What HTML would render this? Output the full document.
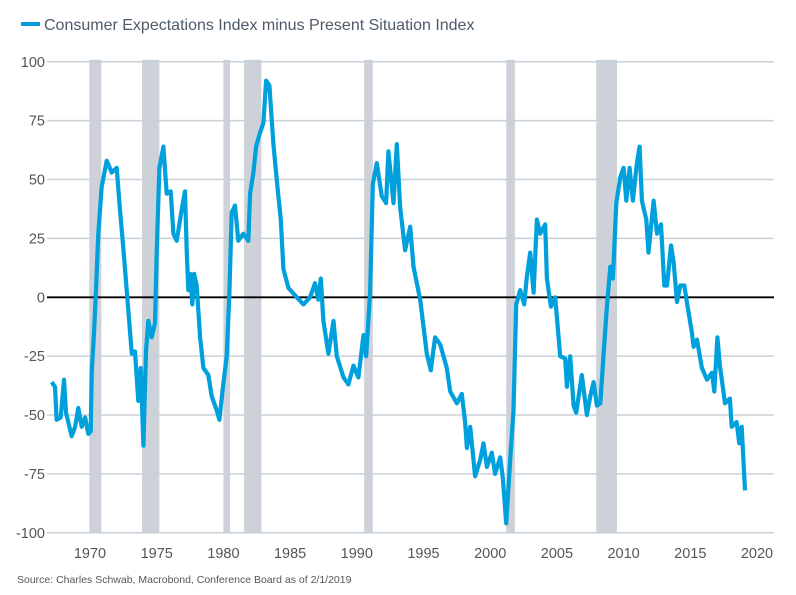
<!DOCTYPE html>
<html><head><meta charset="utf-8">
<style>
body{margin:0;background:#fff;font-family:"Liberation Sans",sans-serif;}
svg{display:block}
</style></head>
<body>
<svg id="chart" width="796" height="595" xmlns="http://www.w3.org/2000/svg">
<g>
<rect x="21" y="22" width="19" height="4" fill="#00a0dc"/>
<text x="44" y="30" font-size="16" fill="#4d5b69">Consumer Expectations Index minus Present Situation Index</text>
</g>
<g id="recessions"></g>
<g id="grid"></g>
<g id="yticks"></g>
<g id="xticks"></g>
<path id="series" fill="none" stroke="#00a0dc" stroke-width="4.2" stroke-linejoin="round"/>
<text x="17" y="583" font-size="10.5" fill="#555">Source: Charles Schwab, Macrobond, Conference Board as of 2/1/2019</text>
</svg>
<script>
const years=[1967.13,1967.38,1967.5,1967.8,1968.05,1968.2,1968.63,1968.88,1969.12,1969.38,1969.63,1969.87,1970.05,1970.13,1970.3,1970.45,1970.62,1970.88,1971.25,1971.63,1972.0,1972.25,1972.5,1972.75,1973.13,1973.37,1973.62,1973.8,1974.0,1974.2,1974.37,1974.62,1974.87,1975.0,1975.2,1975.5,1975.75,1976.05,1976.25,1976.5,1976.87,1977.12,1977.25,1977.37,1977.5,1977.67,1977.8,1978.0,1978.25,1978.5,1978.87,1979.12,1979.5,1979.7,1979.95,1980.25,1980.45,1980.62,1980.87,1981.12,1981.5,1981.87,1982.0,1982.25,1982.45,1982.75,1983.0,1983.2,1983.45,1983.75,1984.05,1984.3,1984.5,1984.87,1985.5,1986.0,1986.5,1986.87,1987.12,1987.3,1987.5,1987.87,1988.25,1988.5,1989.0,1989.37,1989.75,1990.12,1990.5,1990.7,1991.0,1991.2,1991.5,1991.87,1992.2,1992.37,1992.75,1993.0,1993.25,1993.62,1994.0,1994.25,1994.75,1995.25,1995.55,1995.87,1996.25,1996.75,1997.0,1997.5,1997.87,1998.12,1998.25,1998.5,1998.87,1999.25,1999.5,1999.75,2000.12,2000.37,2000.75,2000.95,2001.2,2001.5,2001.75,2001.95,2002.25,2002.55,2002.75,2003.0,2003.25,2003.5,2003.75,2004.12,2004.25,2004.55,2004.87,2005.25,2005.62,2005.75,2006.0,2006.25,2006.45,2006.87,2007.25,2007.5,2007.75,2008.0,2008.25,2008.5,2008.75,2009.0,2009.2,2009.45,2009.75,2010.0,2010.2,2010.45,2010.7,2011.0,2011.2,2011.37,2011.7,2011.87,2012.25,2012.5,2012.8,2013.05,2013.25,2013.55,2013.75,2014.0,2014.25,2014.55,2014.8,2015.12,2015.25,2015.5,2015.87,2016.25,2016.62,2016.8,2017.03,2017.22,2017.6,2017.97,2018.1,2018.47,2018.67,2018.85,2019.1];
const values=[-36,-38,-52,-51,-35,-49,-59,-55,-47,-55,-51,-58,-57,-32,-15,3,27,47,58,53,55,37,21,3,-24,-23,-44,-30,-63,-23,-10,-17,-11,19,55,64,44,45,27,24,37,45,20,3,10,-3,10,5,-17,-30,-33,-42,-48,-52,-39,-25,2,36,39,24,27,24,44,53,64,70,74,92,90,65,47,33,12,4,0,-3,0,6,-1,8,-10,-24,-10,-25,-34,-37,-29,-34,-16,-25,2,48,57,43,40,62,40,65,38,20,30,13,-1,-24,-31,-17,-20,-30,-40,-45,-41,-53,-64,-55,-76,-69,-62,-72,-66,-75,-68,-77,-96,-69,-48,-3,3,-3,9,19,2,33,27,31,8,-4,0,-25,-26,-38,-25,-46,-49,-33,-50,-42,-36,-46,-45,-24,-4,13,8,40,51,55,41,55,41,57,64,41,33,19,41,27,31,5,5,22,15,-2,5,5,-4,-15,-21,-18,-30,-35,-32,-40,-17,-29,-45,-43,-55,-53,-62,-55,-82];
const recStart=[1969.95,1973.9,1980.0,1981.55,1990.55,2001.2,2007.95];
const recEnd=[1970.85,1975.2,1980.5,1982.85,1991.2,2001.85,2009.5];
const yTicks=[100,75,50,25,0,-25,-50,-75,-100];
const xTicks=[1970,1975,1980,1985,1990,1995,2000,2005,2010,2015,2020];

const NS="http://www.w3.org/2000/svg";
const X=y=>90+(y-1970)*13.34;
const Y=v=>297.3-v*2.355;
const L=47,R=774;
function mk(t,a,p){const e=document.createElementNS(NS,t);for(const k in a)e.setAttribute(k,a[k]);p.appendChild(e);return e;}
const rg=document.getElementById('recessions');
recStart.forEach((s,i)=>{const r=mk('rect',{x:X(s),y:Y(100)-2,width:X(recEnd[i])-X(s),height:Y(-100)-Y(100)+2,fill:'#ccd2d8'},rg);

});
const gg=document.getElementById('grid'),yg=document.getElementById('yticks');
yTicks.forEach(v=>{const l=mk('line',{x1:L,x2:R,y1:Y(v),y2:Y(v),stroke:v===0?'#000':'#c9d1d8','stroke-width':v===0?1.8:1.5},gg);


const t=mk('text',{x:45,y:Y(v)+5,'text-anchor':'end','font-size':14.5,fill:'#555'},yg);t.textContent=v;

});
const xg=document.getElementById('xticks');
xTicks.forEach(y=>{const t=mk('text',{x:X(y),y:558,'text-anchor':'middle','font-size':14.5,fill:'#555'},xg);t.textContent=y;

});
document.getElementById('series').setAttribute('d',years.map((y,i)=>(i?'L':'M')+X(y).toFixed(1)+','+Y(values[i]).toFixed(1)).join(''));
</script>
</body></html>
